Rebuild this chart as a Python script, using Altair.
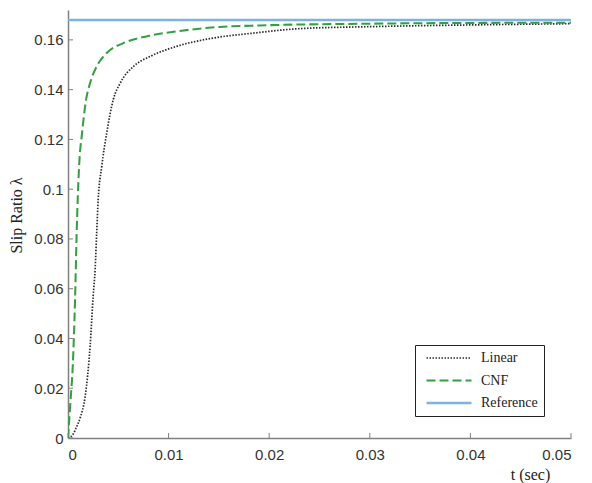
import altair as alt
import pandas as pd

# ---- data ----
series_names = ["Linear", "CNF", "Reference"]

t_linear = [0.0, 0.0005, 0.00086, 0.0012, 0.0017, 0.0022, 0.0025, 0.0027, 0.00285, 0.0030,
            0.00335, 0.00385, 0.0045, 0.0052, 0.0065, 0.0082, 0.0108, 0.0141, 0.0184,
            0.023, 0.030, 0.040, 0.050]
lam_linear = [0.0, 0.0015, 0.0045, 0.008, 0.0166, 0.037, 0.057, 0.068, 0.0823, 0.0957,
              0.109, 0.1226, 0.136, 0.1427, 0.1493, 0.1534, 0.1574, 0.1605, 0.1627,
              0.1645, 0.1653, 0.166, 0.1665]

t_cnf = [0.0, 0.00025, 0.00047, 0.0007, 0.00086, 0.0011, 0.0014, 0.0018, 0.0022, 0.00285,
         0.00385, 0.0055, 0.0078, 0.0108, 0.0151, 0.0191, 0.030, 0.040, 0.050]
lam_cnf = [0.0, 0.015, 0.0287, 0.0555, 0.0823, 0.109, 0.1226, 0.136, 0.1427, 0.1493,
           0.1547, 0.1587, 0.1614, 0.1634, 0.1652, 0.1658, 0.1665, 0.1668, 0.1669]

t_ref = [0.0, 0.05]
lam_ref = [0.168, 0.168]

x_ticks = [0.0, 0.01, 0.02, 0.03, 0.04, 0.05]
y_ticks = [0.0, 0.02, 0.04, 0.06, 0.08, 0.10, 0.12, 0.14, 0.16]

rows = []
for name, ts, ls in zip(series_names, [t_linear, t_cnf, t_ref], [lam_linear, lam_cnf, lam_ref]):
    for i, (t, l) in enumerate(zip(ts, ls)):
        rows.append({"series": name, "t": t, "lam": l, "order": i})
df = pd.DataFrame(rows)

x_scale = alt.Scale(domain=[0, 0.05], nice=False, zero=False)
y_scale = alt.Scale(domain=[0, 0.172], nice=False, zero=False)

legend = alt.Legend(
    title=None, orient="none", legendX=347, legendY=335,
    strokeColor="#222222", fillColor="white", padding=6,
    symbolType="stroke", symbolSize=2025, symbolOffset=4,
    clipHeight=14, rowPadding=8.5,
    labelFont="Liberation Serif", labelFontSize=14, labelColor="#222222", labelOffset=8,
)

lines = alt.Chart(df).mark_line(interpolate="monotone", clip=True).encode(
    x=alt.X("t:Q", scale=x_scale,
            axis=alt.Axis(values=x_ticks, format=".2~f", title="t (sec)", ticks=False,
                          labelPadding=9, titleX=462, titleY=36, titleBaseline="middle",
                          titleAlign="center")),
    y=alt.Y("lam:Q", scale=y_scale,
            axis=alt.Axis(values=y_ticks, format=".2~f", title="Slip Ratio  λ", ticks=False,
                          labelPadding=5, titleX=-52, titleY=205, titleBaseline="middle",
                          titleAlign="center", titleAngle=270)),
    color=alt.Color("series:N", scale=alt.Scale(domain=series_names,
                                                range=["#2b2b2b", "#35a043", "#7cb3e2"]),
                    legend=legend),
    strokeDash=alt.StrokeDash("series:N", scale=alt.Scale(domain=series_names,
                                                          range=[[1.5, 1.5], [9, 4], [1, 0]]),
                              legend=legend),
    strokeWidth=alt.StrokeWidth("series:N", scale=alt.Scale(domain=series_names,
                                                            range=[1.7, 2.4, 1.0]),
                                legend=legend),
    order="order:Q",
)

ytick_df = pd.DataFrame({"v": y_ticks})
xtick_df = pd.DataFrame({"v": x_ticks})

yticks = alt.Chart(ytick_df).mark_rule(color="#808080", strokeWidth=1).encode(
    y=alt.Y("v:Q", scale=y_scale),
    x=alt.value(0), x2=alt.value(5),
)
xticks = alt.Chart(xtick_df).mark_rule(color="#808080", strokeWidth=1).encode(
    x=alt.X("v:Q", scale=x_scale),
    y=alt.value(428), y2=alt.value(423),
)

chart = alt.layer(lines, yticks, xticks).properties(
    width=503, height=428,
    autosize=alt.AutoSizeParams(type="none"),
    padding={"left": 68, "top": 10, "right": 21, "bottom": 45},
    background="white",
).configure_view(stroke=None).configure_axis(
    domainColor="#808080", domainWidth=1.5, grid=False,
    labelFont="Liberation Sans", labelFontSize=15, labelColor="#333333",
    titleFont="Liberation Serif", titleFontSize=16, titleFontWeight="normal",
    titleColor="#222222",
)

chart.save("out.html", embed_options={"renderer": "svg", "actions": False})
